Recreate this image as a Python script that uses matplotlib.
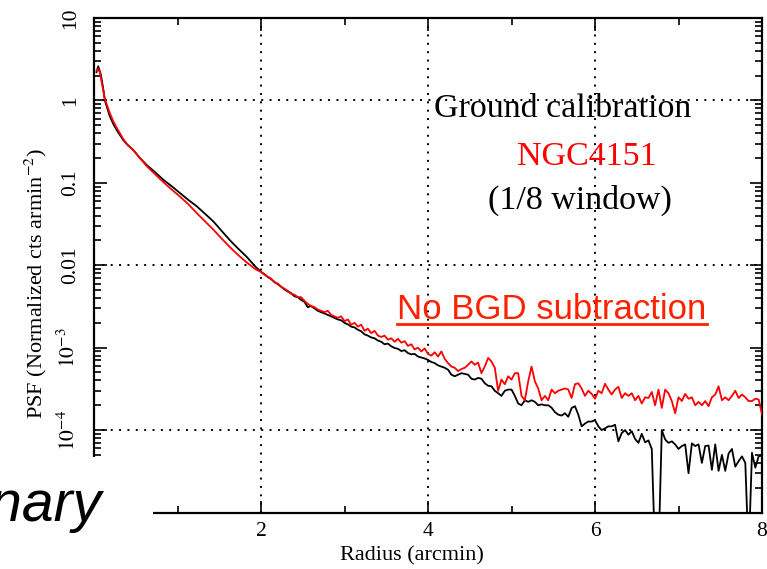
import numpy as np
import matplotlib
matplotlib.use("Agg")
import matplotlib.pyplot as plt
from matplotlib.patches import Rectangle
from matplotlib.lines import Line2D
from matplotlib.ticker import FixedLocator, LogLocator, NullFormatter, FixedFormatter

plt.rcParams['font.family'] = ['Liberation Serif', 'DejaVu Serif']
plt.rcParams['mathtext.fontset'] = 'stix'

# ---- radial profiles (radius in arcmin, normalised PSF) ----
# core region, read at irregular radii
r_core_ground = [0.03, 0.05, 0.08, 0.11, 0.13, 0.16, 0.19, 0.23, 0.27, 0.31, 0.35, 0.40,
                 0.47, 0.55, 0.63, 0.73, 0.83, 0.93, 1.03, 1.13, 1.23, 1.33, 1.43, 1.53,
                 1.63, 1.73, 1.83, 1.93]
psf_core_ground = [2.2, 2.6, 2.1, 1.4, 1.0, 0.80, 0.64, 0.52, 0.44, 0.38, 0.33, 0.29,
                   0.25, 0.20, 0.165, 0.135, 0.109, 0.091, 0.075, 0.062, 0.052, 0.042,
                   0.034, 0.026, 0.020, 0.0158, 0.0126, 0.0097]

r_core_ngc = [0.03, 0.05, 0.07, 0.10, 0.13, 0.16, 0.19, 0.23, 0.27, 0.31, 0.35, 0.40,
              0.47, 0.55, 0.63, 0.73, 0.83, 0.93, 1.03, 1.13, 1.23, 1.33, 1.43, 1.53,
              1.63, 1.73, 1.83, 1.93]
psf_core_ngc = [2.3, 2.4, 2.2, 1.5, 1.05, 0.85, 0.70, 0.56, 0.47, 0.40, 0.34, 0.29,
                0.25, 0.20, 0.16, 0.128, 0.102, 0.083, 0.068, 0.055, 0.043, 0.034,
                0.027, 0.021, 0.0165, 0.0132, 0.0108, 0.0090]

# wing region, 2.00 - 4.12 arcmin in 0.04 arcmin bins
r_wing = np.linspace(2.00, 4.12, 54)
psf_wing_ground = [0.0083, 0.0078, 0.0072, 0.0068, 0.0063, 0.0059, 0.0055, 0.0051, 0.0048, 0.0046,
                   0.0042, 0.0041, 0.0038, 0.0036, 0.0031, 0.0032, 0.0030, 0.0028, 0.0027, 0.0026,
                   0.0025, 0.0024, 0.0023, 0.0022, 0.00215, 0.0020, 0.00192, 0.00180, 0.00176, 0.00165,
                   0.00158, 0.00145, 0.00140, 0.00133, 0.00130, 0.00122, 0.00118, 0.00110, 0.00112, 0.00104,
                   0.00099, 0.00097, 0.00091, 0.00093, 0.00086, 0.00083, 0.00084, 0.00078, 0.00076, 0.00074,
                   0.00071, 0.00067, 0.00065, 0.00061]
psf_wing_ngc = [0.0083, 0.0077, 0.0073, 0.0069, 0.0062, 0.0060, 0.0055, 0.0052, 0.0049, 0.0045,
                0.0044, 0.0041, 0.0041, 0.0037, 0.0034, 0.0032, 0.0031, 0.0029, 0.0028, 0.0027,
                0.0028, 0.0025, 0.0024, 0.0023, 0.0024, 0.0021, 0.0022, 0.0019, 0.0020, 0.0018,
                0.0019, 0.0016, 0.0017, 0.0015, 0.0016, 0.0014, 0.00135, 0.00140, 0.00125, 0.00130,
                0.00118, 0.00128, 0.00115, 0.00120, 0.00105, 0.00110, 0.00095, 0.00100, 0.00090, 0.00098,
                0.00084, 0.00080, 0.00088, 0.00078]

# outer region, 4.16 - 8.00 arcmin in 0.04 arcmin bins
r_outer = np.linspace(4.16, 8.00, 97)
psf_outer_ground = [5.9e-4, 5.7e-4, 5.4e-4, 4.7e-4, 4.5e-4, 4.7e-4, 4.9e-4, 4.8e-4, 4.7e-4, 4.2e-4,
                    4.1e-4, 4.3e-4, 4.2e-4, 3.7e-4, 3.45e-4, 3.4e-4, 3.0e-4, 2.8e-4, 2.6e-4, 3.0e-4,
                    3.1e-4, 3.1e-4, 2.6e-4, 2.1e-4, 2.0e-4, 2.3e-4, 2.2e-4, 2.3e-4, 2.2e-4, 2.0e-4,
                    2.05e-4, 2.0e-4, 2.0e-4, 1.87e-4, 1.65e-4, 1.54e-4, 1.5e-4, 1.6e-4, 1.45e-4, 1.85e-4,
                    1.95e-4, 1.54e-4, 1.11e-4, 1.2e-4, 1.27e-4, 1.27e-4, 1.32e-4, 1.11e-4, 1.0e-4, 1.05e-4,
                    1.11e-4, 1.11e-4, 1.16e-4, 7.3e-5, 9.2e-5, 1.0e-4, 8.8e-5, 9.7e-5, 7.8e-5, 7.0e-5,
                    9.0e-5, 7.1e-5, 7.5e-5, 5.9e-5, 3e-6, 3e-6, 1.0e-4, 7.7e-5, 7.0e-5, 7.3e-5,
                    6.7e-5, 5.9e-5, 6.4e-5, 6.7e-5, 3.0e-5, 6.9e-5, 6.4e-5, 6.7e-5, 4.0e-5, 6.4e-5,
                    6.5e-5, 3.3e-5, 6.7e-5, 3.2e-5, 5.0e-5, 3.2e-5, 5.2e-5, 5.9e-5, 3.6e-5, 4.2e-5,
                    4.8e-5, 4.0e-5, 3e-6, 5.3e-5, 3.5e-5, 4.8e-5, 4.9e-5]
psf_outer_ngc = [9.0e-4, 7.3e-4, 6.5e-4, 5.9e-4, 5.7e-4, 5.2e-4, 5.5e-4, 5.7e-4, 6.2e-4, 6.8e-4,
                 6.2e-4, 6.6e-4, 4.9e-4, 5.9e-4, 7.5e-4, 6.8e-4, 5.7e-4, 3.0e-4, 4.1e-4, 3.6e-4,
                 4.5e-4, 4.1e-4, 4.9e-4, 4.9e-4, 2.6e-4, 2.3e-4, 3.9e-4, 5.9e-4, 3.9e-4, 3.2e-4,
                 2.3e-4, 2.6e-4, 2.3e-4, 3.1e-4, 2.8e-4, 3.0e-4, 3.1e-4, 3.2e-4, 3.1e-4, 2.45e-4,
                 3.6e-4, 3.7e-4, 3.2e-4, 2.6e-4, 3.0e-4, 2.75e-4, 2.4e-4, 3.0e-4, 2.8e-4, 3.65e-4,
                 3.1e-4, 2.7e-4, 3.1e-4, 3.35e-4, 2.45e-4, 2.8e-4, 2.6e-4, 2.8e-4, 2.3e-4, 2.6e-4,
                 2.1e-4, 2.5e-4, 2.45e-4, 2.9e-4, 2.0e-4, 3.1e-4, 1.86e-4, 3.1e-4, 2.8e-4, 2.25e-4,
                 1.6e-4, 2.5e-4, 2.25e-4, 2.75e-4, 2.4e-4, 2.5e-4, 2.0e-4, 2.2e-4, 2.0e-4, 2.25e-4,
                 1.95e-4, 2.5e-4, 2.7e-4, 3.4e-4, 2.3e-4, 2.5e-4, 2.3e-4, 2.6e-4, 3.0e-4, 2.45e-4,
                 2.7e-4, 2.5e-4, 2.25e-4, 2.25e-4, 2.4e-4, 2.35e-4, 1.55e-4]

r_ground = np.concatenate([r_core_ground, r_wing, r_outer])
psf_ground = np.concatenate([psf_core_ground, psf_wing_ground, psf_outer_ground])
r_ngc = np.concatenate([r_core_ngc, r_wing, r_outer])
psf_ngc = np.concatenate([psf_core_ngc, psf_wing_ngc, psf_outer_ngc])

x_major = [2, 4, 6, 8]
x_minor = [1, 3, 5, 7]
y_major = [1e-4, 1e-3, 1e-2, 1e-1, 1, 10]
y_labels = [r'$10^{-4}$', r'$10^{-3}$', '0.01', '0.1', '1', '10']
grid_x = [2, 4, 6]
grid_y = [1e-4, 1e-2, 1]

W, H = 767, 569
fig = plt.figure(figsize=(W / 100, H / 100), dpi=100)
L, R, T, B = 94, 762, 18, 512.5
ax = fig.add_axes([L / W, 1 - B / H, (R - L) / W, (B - T) / H])


def fx(px):
    return px / W


def fy(py):
    return 1 - py / H


ax.set_yscale('log', nonpositive='clip')
ax.set_xlim(0, 8)
ax.set_ylim(1e-5, 10)

dot = (0, (1, 3.3))
for gx in grid_x:
    ax.axvline(gx, color='black', lw=1.4, ls=dot, zorder=1)
for gy in grid_y:
    ax.axhline(gy, color='black', lw=1.4, ls=dot, zorder=1)

ax.plot(r_ground, psf_ground, color='black', lw=1.3, zorder=3)
ax.plot(r_ngc, psf_ngc, color='red', lw=1.3, zorder=4)

ax.xaxis.set_major_locator(FixedLocator(x_major))
ax.xaxis.set_minor_locator(FixedLocator(x_minor))
ax.set_xticklabels([str(v) for v in x_major])
ax.yaxis.set_major_locator(FixedLocator(y_major))
ax.yaxis.set_major_formatter(FixedFormatter(y_labels))
ax.yaxis.set_minor_locator(LogLocator(base=10, subs=np.arange(2, 10), numticks=20))
ax.yaxis.set_minor_formatter(NullFormatter())

ax.tick_params(which='both', direction='in', top=True, right=True, width=1.2, labelsize=15.5)
ax.tick_params(which='major', length=9)
ax.tick_params(which='minor', length=5)
ax.tick_params(axis='y', pad=10)
ax.tick_params(axis='x', pad=7)
for lab in ax.get_yticklabels():
    lab.set_rotation(90)
    lab.set_va('center')
for s in ax.spines.values():
    s.set_linewidth(1.6)

fig.text(fx(36), fy(283), r'PSF (Normalized cts armin$^{-2}$)', rotation=90,
         ha='center', va='center', fontsize=16)
fig.text(fx(412), fy(556), 'Radius (arcmin)', ha='center', va='center', fontsize=16)

fig.text(fx(563), fy(109), 'Ground calibration', ha='center', va='center', fontsize=24.5, zorder=6)
fig.text(fx(587), fy(157), 'NGC4151', ha='center', va='center', fontsize=24.5, color='red', zorder=6)
fig.text(fx(580), fy(200), '(1/8 window)', ha='center', va='center', fontsize=24.5, zorder=6)

nobgd = fig.text(fx(552), fy(319), 'No BGD subtraction', ha='center', va='baseline',
                 fontsize=25, color='#ff2200', family='Liberation Sans', zorder=6)
fig.canvas.draw()
bb = nobgd.get_window_extent(fig.canvas.get_renderer())
fig.add_artist(Line2D([bb.x0 / W, bb.x1 / W], [fy(323.5), fy(323.5)],
                      transform=fig.transFigure, color='#ff2200', lw=2.0, zorder=6))

# label block overlapping the lower-left corner
fig.add_artist(Rectangle((0, 0), fx(153), (H - 457) / H,
                         transform=fig.transFigure, fc='white', ec='none', zorder=5))
fig.text(fx(101), fy(521), 'Preliminary', ha='right', va='baseline', fontsize=41,
         style='italic', family='Liberation Sans', zorder=6)

fig.savefig('out.png', dpi=100)
